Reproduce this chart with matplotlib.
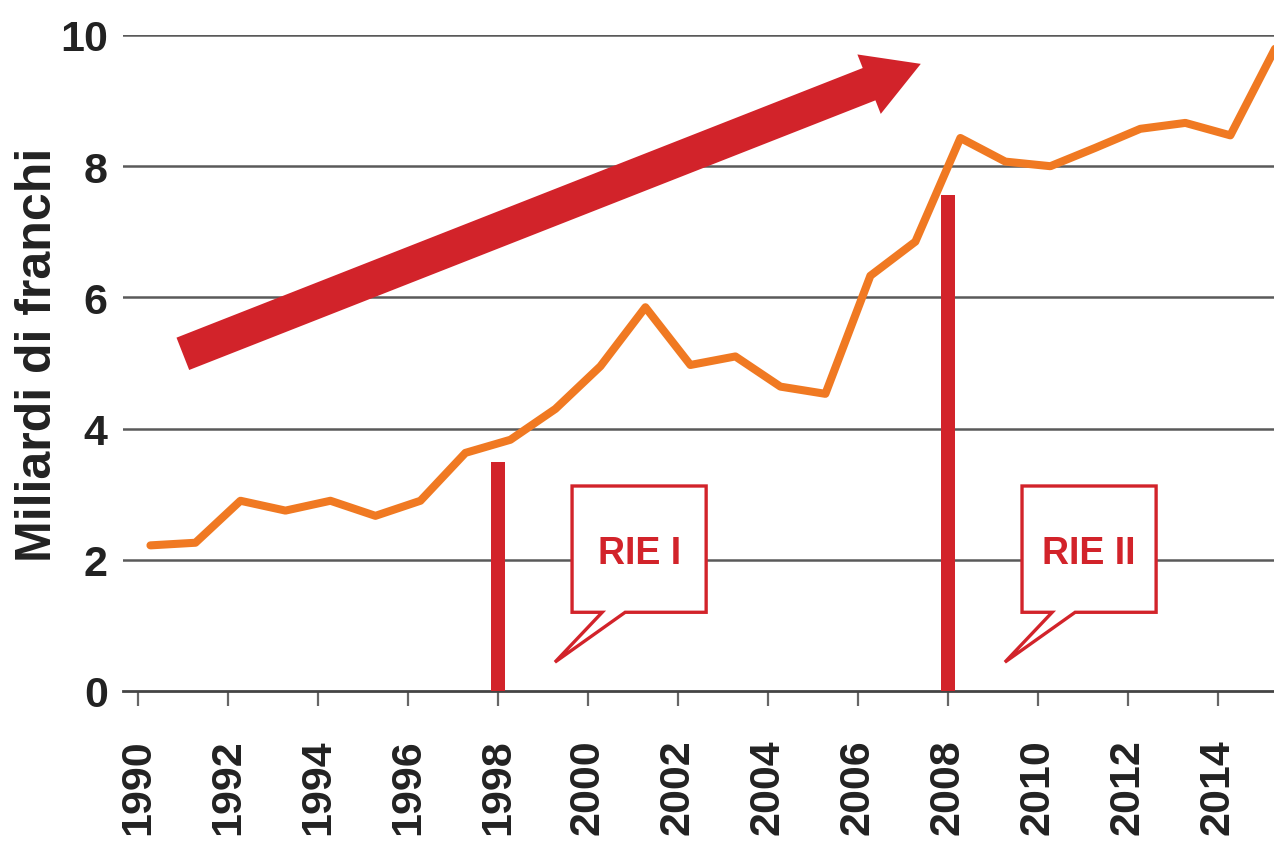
import matplotlib
matplotlib.use('Agg')
import matplotlib.pyplot as plt
from matplotlib.patches import Polygon, FancyArrowPatch

plt.rcParams['font.family'] = ['Liberation Sans', 'DejaVu Sans']

# Data
years = list(range(1990, 2016))
values = [2.22, 2.26, 2.90, 2.75, 2.90, 2.67, 2.90, 3.63, 3.83, 4.30,
          4.95, 5.85, 4.97, 5.10, 4.64, 4.53, 6.33, 6.85, 8.43, 8.07,
          8.00, 8.28, 8.57, 8.66, 8.47, 9.80]
reform_years = [1998, 2008]
reform_heights = [3.49, 7.56]
reform_labels = ['RIE I', 'RIE II']
trend_start = (1991.0, 5.14)
trend_end = (2007.4, 9.56)
ytick_vals = [0, 2, 4, 6, 8, 10]
xtick_vals = list(range(1990, 2015, 2))

orange = '#f07922'
red = '#d2232a'
dark = '#222222'

fig = plt.figure(figsize=(12.74, 8.45), dpi=100)
ax = fig.add_axes([123 / 1274, 153 / 845, 1 - 123 / 1274, 656 / 845])
ax.set_xlim(1989.67, 2015.25)
ax.set_ylim(0, 10)

# grid
for v in ytick_vals[1:]:
    ax.axhline(v, color='#5a5a5a', linewidth=1.8, zorder=1)

# orange series (points sit a bit after the year tick)
xs = [y + 0.28 for y in years]
ax.plot(xs, values, color=orange, linewidth=5.8, solid_joinstyle='round',
        solid_capstyle='round', zorder=4, clip_on=False)

# reform bars
ax.bar(reform_years, reform_heights, width=0.32, color=red, zorder=3)

# speech bubbles
for yr, lab in zip(reform_years, reform_labels):
    left, right = yr + 1.65, yr + 4.63
    top, bot = 3.125, 1.20
    pts = [(left, top), (right, top), (right, bot), (yr + 2.83, bot),
           (yr + 1.27, 0.44), (yr + 2.32, bot), (left, bot)]
    ax.add_patch(Polygon(pts, closed=True, facecolor='white', edgecolor=red,
                         linewidth=2.4, joinstyle='miter', zorder=5))
    ax.text((left + right) / 2, 2.11, lab, color=red, fontsize=27,
            fontweight='bold', ha='center', va='center', zorder=6)

# trend arrow
arrow = FancyArrowPatch(trend_start, trend_end,
                        arrowstyle='simple,head_length=40,head_width=46,tail_width=25',
                        mutation_scale=1, shrinkA=0, shrinkB=0,
                        color=red, linewidth=0, zorder=6, clip_on=False)
ax.add_patch(arrow)

# axes styling
for s in ['top', 'right', 'left']:
    ax.spines[s].set_visible(False)
ax.spines['bottom'].set_color('#444444')
ax.spines['bottom'].set_linewidth(2.0)
ax.spines['bottom'].set_zorder(2)

ax.set_yticks(ytick_vals)
ax.set_yticklabels([str(v) for v in ytick_vals])
ax.tick_params(axis='y', length=0, pad=11, labelsize=31, labelcolor=dark)
ax.set_xticks(xtick_vals)
ax.set_xticklabels([str(v) for v in xtick_vals], rotation=90)
ax.tick_params(axis='x', length=11, width=1.6, color='#666666', pad=23,
               labelsize=31, labelcolor=dark)
for lab in ax.get_xticklabels() + ax.get_yticklabels():
    lab.set_fontweight('bold')

fig.text(38 / 1274, 1 - 355 / 845, 'Miliardi di franchi', rotation=90,
         ha='center', va='center', fontsize=36, fontweight='bold', color=dark)

fig.savefig('out.png', dpi=100)
